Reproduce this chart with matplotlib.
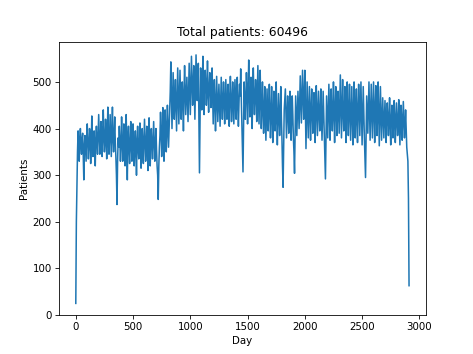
import matplotlib
matplotlib.use("Agg")
import matplotlib.pyplot as plt
import numpy as np

TOTAL = 60496

# readings on days 0, 10, 20, ... (band edges and dips)
edge_vals = [
    25, 280, 395, 330, 400, 345, 390, 290, 385, 330,       # 0
    410, 335, 400, 325, 427, 340, 395, 320, 405, 345,      # 100
    430, 345, 415, 340, 440, 350, 420, 335, 446, 345,      # 200
    430, 340, 446, 350, 425, 340, 237, 380, 405, 330,      # 300
    425, 330, 410, 320, 430, 290, 405, 325, 415, 330,      # 400
    410, 320, 395, 300, 405, 335, 412, 315, 400, 325,      # 500
    420, 330, 405, 310, 423, 320, 400, 335, 415, 330,      # 600
    400, 320, 248, 360, 435, 340, 445, 330, 440, 350,      # 700
    450, 360, 445, 543, 400, 520, 420, 505, 395, 530,      # 800
    410, 525, 420, 500, 395, 535, 430, 510, 415, 540,      # 900
    430, 555, 450, 535, 420, 558, 460, 540, 305, 530,      # 1000
    440, 555, 430, 525, 450, 545, 435, 520, 445, 530,      # 1100
    410, 505, 395, 512, 415, 495, 405, 510, 420, 500,      # 1200
    410, 505, 420, 495, 405, 512, 415, 500, 410, 505,      # 1300
    420, 510, 405, 495, 528, 415, 307, 500, 420, 520,      # 1400
    410, 547, 425, 510, 400, 530, 430, 505, 415, 535,      # 1500
    410, 525, 400, 500, 390, 490, 375, 485, 395, 495,      # 1600
    380, 490, 370, 480, 395, 500, 365, 475, 385, 490,      # 1700
    380, 274, 440, 485, 380, 470, 390, 480, 375, 470,      # 1800
    380, 304, 470, 385, 480, 400, 513, 412, 525, 420,      # 1900
    525, 357, 500, 380, 490, 375, 485, 390, 477, 370,      # 2000
    492, 385, 480, 395, 485, 375, 480, 390, 292, 470,      # 2100
    380, 495, 375, 485, 395, 500, 370, 490, 385, 480,      # 2200
    390, 515, 380, 505, 395, 490, 370, 500, 385, 495,      # 2300
    375, 490, 365, 500, 380, 485, 370, 495, 385, 500,      # 2400
    365, 490, 380, 295, 470, 390, 500, 375, 495, 380,      # 2500
    500, 370, 492, 385, 500, 363, 490, 375, 466, 380,      # 2600
    460, 370, 455, 385, 466, 365, 450, 380, 460, 370,      # 2700
    455, 385, 462, 365, 450, 375, 458, 380, 440, 360,      # 2800
    330, 63,                                               # 2900
]

# readings on days 5, 15, 25, ... (band core)
core_vals = [
    200, 350, 370, 372, 365, 378, 345, 362, 358, 380,      # 0
    372, 360, 385, 368, 375, 355, 360, 378, 370, 385,      # 100
    388, 372, 395, 380, 390, 368, 385, 395, 375, 390,      # 200
    382, 395, 378, 390, 370, 300, 330, 360, 372, 365,      # 300
    375, 360, 368, 345, 360, 380, 355, 370, 362, 378,      # 400
    365, 350, 360, 372, 355, 368, 362, 350, 368, 372,      # 500
    372, 360, 378, 355, 370, 380, 362, 375, 368, 360,      # 600
    355, 300, 320, 385, 395, 380, 400, 392, 405, 390,      # 700
    405, 400, 480, 470, 465, 470, 455, 450, 460, 470,      # 800
    465, 470, 455, 460, 475, 480, 470, 460, 478, 485,      # 900
    492, 500, 488, 480, 495, 505, 490, 420, 410, 480,      # 1000
    495, 485, 490, 500, 480, 475, 485, 490, 475, 470,      # 1100
    460, 455, 450, 462, 455, 450, 458, 465, 455, 462,      # 1200
    455, 460, 450, 455, 465, 460, 452, 458, 462, 465,      # 1300
    458, 450, 455, 470, 465, 360, 410, 455, 470, 480,      # 1400
    485, 475, 465, 470, 478, 470, 465, 470, 475, 468,      # 1500
    465, 455, 445, 440, 435, 430, 432, 440, 438, 435,      # 1600
    428, 425, 432, 440, 428, 420, 425, 430, 432, 425,      # 1700
    320, 360, 462, 430, 425, 435, 428, 420, 425, 430,      # 1800
    350, 390, 425, 430, 440, 455, 465, 470, 475, 465,      # 1900
    440, 430, 440, 435, 430, 440, 432, 425, 430, 438,      # 2000
    435, 432, 440, 430, 428, 432, 435, 340, 380, 425,      # 2100
    440, 432, 438, 445, 435, 430, 440, 432, 428, 435,      # 2200
    450, 445, 440, 438, 435, 440, 445, 440, 435, 430,      # 2300
    432, 428, 440, 435, 425, 432, 440, 438, 445, 430,      # 2400
    428, 430, 340, 380, 430, 445, 435, 440, 432, 440,      # 2500
    430, 438, 440, 432, 425, 430, 428, 420, 425, 418,      # 2600
    415, 420, 425, 415, 410, 418, 420, 415, 420, 412,      # 2700
    420, 412, 415, 410, 418, 415, 420, 405, 400, 345,      # 2800
    250,                                                   # 2900
]

edge_days = np.arange(len(edge_vals)) * 10
core_days = np.arange(len(core_vals)) * 10 + 5
days = np.concatenate([edge_days, core_days])
patients = np.concatenate([edge_vals, core_vals])
order = np.argsort(days)

fig, ax = plt.subplots(figsize=(6.392, 4.784), dpi=74)
ax.plot(days[order], patients[order])
ax.set_title(f"Total patients: {TOTAL}")
ax.set_xlabel("Day")
ax.set_ylabel("Patients")
ax.set_ylim(bottom=0)

fig.savefig("out.png", dpi=74)
